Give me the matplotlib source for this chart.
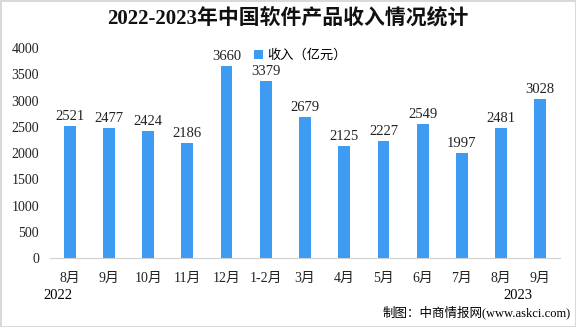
import matplotlib.pyplot as plt

months = ['8月', '9月', '10月', '11月', '12月', '1-2月', '3月', '4月', '5月', '6月', '7月', '8月', '9月']
revenue = [2521, 2477, 2424, 2186, 3660, 3379, 2679, 2125, 2227, 2549, 1997, 2481, 3028]
yticks = [0, 500, 1000, 1500, 2000, 2500, 3000, 3500, 4000]

fonts = ['Liberation Serif', 'Noto Sans CJK SC', 'DejaVu Sans']
plt.rcParams['font.family'] = fonts

fig = plt.figure(figsize=(5.76, 3.27), dpi=100)
fig.patch.set_edgecolor('#d9d9d9')
fig.patch.set_linewidth(2)
ax = fig.add_axes([0.087, 0.211, 0.885, 0.642])

x = list(range(len(months)))
bars = ax.bar(x, revenue, width=0.3, color='#3e9bf2', label='收入（亿元）')
for xi, v in zip(x, revenue):
    ax.text(xi, v + 60, str(v), ha='center', va='bottom', fontsize=10.5, color='#222222')

ax.set_xlim(-0.5, len(months) - 0.5)
ax.set_ylim(0, 4000)
ax.set_yticks(yticks)
ax.set_xticks(x)
ax.set_xticklabels(months)
ax.tick_params(axis='both', length=0, labelsize=10, colors='#222222', pad=10)
ax.tick_params(axis='y', pad=8)
for s in ['top', 'right', 'left']:
    ax.spines[s].set_visible(False)
ax.spines['bottom'].set_color('#d0d0d0')

fig.text(0.5, 0.94, '2022-2023年中国软件产品收入情况统计', ha='center', va='center',
         fontsize=15, fontweight='bold', color='#111111')
ax.legend(loc='upper center', bbox_to_anchor=(0.49, 1.05), frameon=False,
          fontsize=9.5, handlelength=0.7, handleheight=0.7, handletextpad=0.3)

fig.text(0.1, 0.095, '2022', ha='center', va='center', fontsize=10.5)
fig.text(0.9, 0.095, '2023', ha='center', va='center', fontsize=10.5)
fig.text(0.99, 0.045, '制图：中商情报网(www.askci.com)', ha='right', va='center', fontsize=9)

plt.savefig('out.png', dpi=100)
